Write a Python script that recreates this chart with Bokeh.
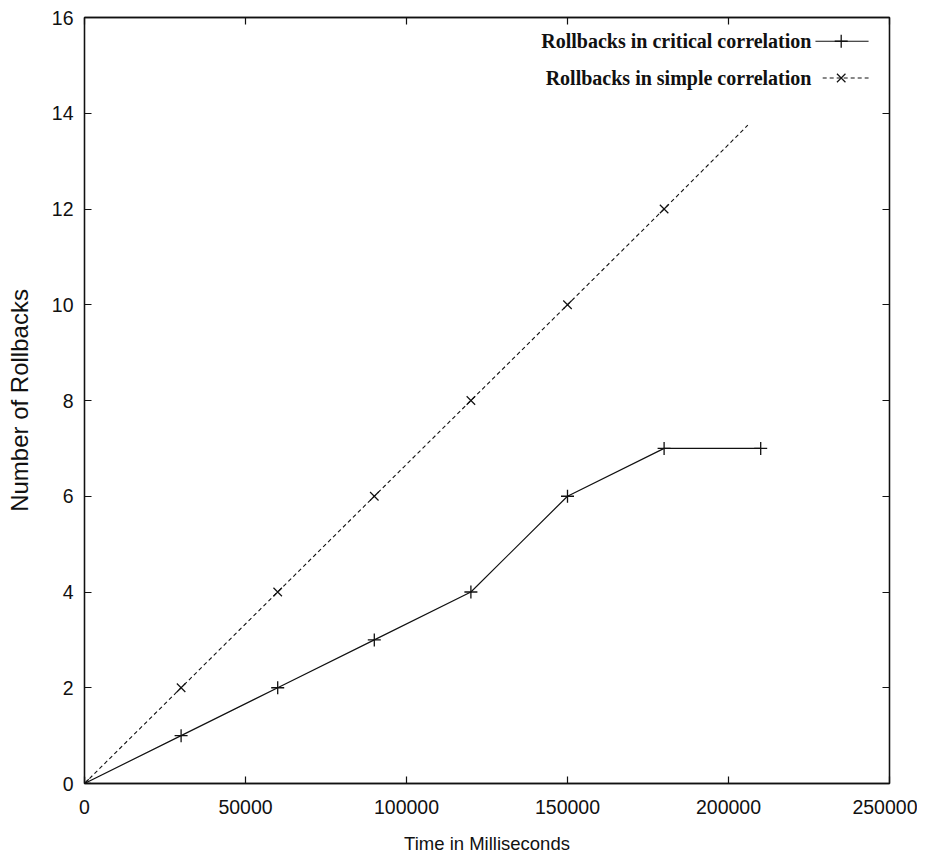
from bokeh.plotting import figure
from bokeh.models import Range1d, LinearAxis, FixedTicker, NumeralTickFormatter, Label
from bokeh.embed import file_html
from bokeh.resources import INLINE

# ---- data ----
time_ms = [0, 30000, 60000, 90000, 120000, 150000, 180000, 210000]
critical = [0, 1, 2, 3, 4, 6, 7, 7]
simple_time = [0, 30000, 60000, 90000, 120000, 150000, 180000]
simple = [0, 2, 4, 6, 8, 10, 12]
simple_line_end_time = 206000
simple_line_end_value = 13.75
x_ticks = [0, 50000, 100000, 150000, 200000, 250000]
y_ticks = [0, 2, 4, 6, 8, 10, 12, 14, 16]
legend_labels = ["Rollbacks in critical correlation", "Rollbacks in simple correlation"]

SANS = "'Liberation Sans', Arial, sans-serif"
SERIF = "'Liberation Serif', 'Times New Roman', serif"
INK = "#111111"

p = figure(width=917, height=857, output_backend="svg", toolbar_location=None,
           x_range=Range1d(0, 250000), y_range=Range1d(0, 16),
           min_border_left=84, min_border_right=28, min_border_top=17, min_border_bottom=74)
p.background_fill_color = "white"
p.border_fill_color = "white"
p.outline_line_color = INK
p.outline_line_width = 1.3
p.xgrid.visible = False
p.ygrid.visible = False

def style_axis(ax, ticks, show_labels):
    ax.ticker = FixedTicker(ticks=ticks)
    ax.major_tick_in = 7
    ax.major_tick_out = 0
    ax.minor_tick_line_color = None
    ax.major_tick_line_color = INK
    ax.major_tick_line_width = 1.2
    ax.axis_line_color = INK
    ax.axis_line_width = 1.3
    if show_labels:
        ax.major_label_text_font = SANS
        ax.major_label_text_font_size = "19.5px"
        ax.major_label_text_color = "#111111"
    else:
        ax.major_label_text_font_size = "10px"
        ax.major_label_text_color = None
        ax.major_label_standoff = 0

xa = p.xaxis[0]
ya = p.yaxis[0]
style_axis(xa, x_ticks, True)
style_axis(ya, y_ticks, True)
xa.formatter = NumeralTickFormatter(format="0")
xa.major_label_standoff = 16
ya.major_label_standoff = 11
xa.axis_label = "Time in Milliseconds"
ya.axis_label = "Number of Rollbacks"
for ax in (xa, ya):
    ax.axis_label_text_font = SANS
    ax.axis_label_text_font_style = "normal"
    ax.axis_label_text_color = "#111111"
xa.axis_label_text_font_size = "18.5px"
ya.axis_label_text_font_size = "24px"
xa.axis_label_standoff = 16
ya.axis_label_standoff = 16

top = LinearAxis()
right = LinearAxis()
style_axis(top, x_ticks, False)
style_axis(right, y_ticks, False)
p.add_layout(top, "above")
p.add_layout(right, "right")

# series
p.line(time_ms, critical, line_color=INK, line_width=1.2)
p.scatter(time_ms, critical, marker="cross", size=13, line_color=INK, line_width=1.3, fill_color=None)

p.line(simple_time + [simple_line_end_time], simple + [simple_line_end_value],
       line_color=INK, line_width=1.1, line_dash="4 3")
p.scatter(simple_time, simple, marker="x", size=12, line_color=INK, line_width=1.2, fill_color=None)

# legend (text left of sample, as in gnuplot), positioned in frame-fraction coordinates
p.extra_x_ranges = {"leg": Range1d(0, 1)}
p.extra_y_ranges = {"leg": Range1d(0, 1)}
leg_y = [0.969, 0.921]
leg_text_x = 0.903
p.line([0.908, 0.974], [leg_y[0], leg_y[0]], line_color=INK, line_width=1.2,
       x_range_name="leg", y_range_name="leg")
p.scatter([0.940], [leg_y[0]], marker="cross", size=13, line_color=INK, line_width=1.3,
          x_range_name="leg", y_range_name="leg")
p.line([0.917, 0.974], [leg_y[1], leg_y[1]], line_color=INK, line_width=1.1, line_dash="4 3",
       x_range_name="leg", y_range_name="leg")
p.scatter([0.940], [leg_y[1]], marker="x", size=12, line_color=INK, line_width=1.2,
          x_range_name="leg", y_range_name="leg")
for lbl, yy in zip(legend_labels, leg_y):
    p.add_layout(Label(x=leg_text_x, y=yy, x_range_name="leg", y_range_name="leg",
                       text=lbl, text_align="right", text_baseline="middle",
                       text_font=SERIF, text_font_style="bold", text_font_size="20px",
                       text_color="#111111"))

open("out.html", "w").write(file_html(p, INLINE))
